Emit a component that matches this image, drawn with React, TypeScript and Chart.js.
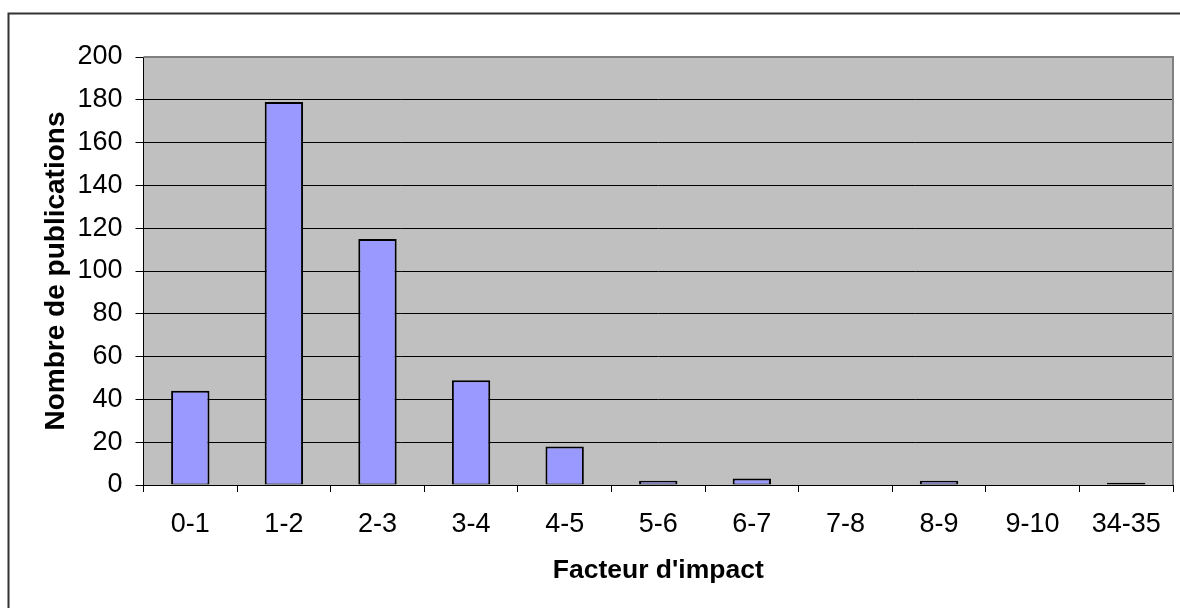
import React, { useEffect, useRef } from "react";
import { Chart, registerables } from "chart.js";

Chart.register(...registerables);

const categories = ["0-1", "1-2", "2-3", "3-4", "4-5", "5-6", "6-7", "7-8", "8-9", "9-10", "34-35"];
const publications = [44, 179, 115, 49, 18, 2, 3, 0, 2, 0, 1];
const yMin = 0;
const yMax = 200;
const yStep = 20;
const xTitle = "Facteur d'impact";
const yTitle = "Nombre de publications";

const FONT = "'Liberation Sans', Arial, Helvetica, sans-serif";

const framePlugin = {
  id: "frame",
  beforeDraw(chart: any) {
    const { ctx, chartArea } = chart;
    ctx.save();
    ctx.fillStyle = "#ffffff";
    ctx.fillRect(0, 0, chart.width, chart.height);
    ctx.strokeStyle = "#333333";
    ctx.lineWidth = 2;
    ctx.strokeRect(8.5, 13.5, chart.width + 20, chart.height + 20);
    ctx.fillStyle = "#c0c0c0";
    ctx.fillRect(chartArea.left, chartArea.top, chartArea.right - chartArea.left, chartArea.bottom - chartArea.top);
    ctx.restore();
  },
  afterDraw(chart: any) {
    const { ctx, chartArea } = chart;
    ctx.save();
    ctx.strokeStyle = "#808080";
    ctx.lineWidth = 2;
    ctx.beginPath();
    ctx.moveTo(chartArea.left, chartArea.top);
    ctx.lineTo(chartArea.right, chartArea.top);
    ctx.lineTo(chartArea.right, chartArea.bottom);
    ctx.stroke();
    ctx.restore();
  },
};

export default function App() {
  const ref = useRef<HTMLCanvasElement | null>(null);

  useEffect(() => {
    if (!ref.current) return;
    const chart = new Chart(ref.current, {
      type: "bar",
      data: {
        labels: categories,
        datasets: [
          {
            data: publications,
            backgroundColor: "#9999ff",
            borderColor: "#000000",
            borderWidth: { top: 2, left: 2, right: 2, bottom: 1 },
            borderSkipped: false,
            categoryPercentage: 1,
            barPercentage: 0.41,
          },
        ],
      },
      options: {
        animation: false,
        responsive: false,
        devicePixelRatio: 1,
        layout: { padding: { top: 57, right: 7, left: 0, bottom: 0 } },
        plugins: {
          legend: { display: false },
          tooltip: { enabled: false },
        },
        scales: {
          x: {
            grid: {
              offset: true,
              drawOnChartArea: false,
              drawTicks: true,
              tickLength: 7,
              color: "#000000",
              tickColor: "#000000",
            },
            border: { color: "#000000", width: 1 },
            ticks: {
              color: "#000000",
              font: { family: FONT, size: 27 },
              padding: 16,
              maxRotation: 0,
              autoSkip: false,
            },
            title: {
              display: true,
              text: xTitle,
              color: "#000000",
              font: { family: FONT, size: 26.5, weight: "bold" },
              padding: { top: 0, bottom: 21 },
            },
            afterFit: (scale: any) => {
              scale.height = 123;
            },
          },
          y: {
            min: yMin,
            max: yMax,
            grid: {
              color: (c: any) => (c.tick && c.tick.value === yMax ? "rgba(0,0,0,0)" : "#000000"),
              tickColor: "#000000",
              tickLength: 8,
              lineWidth: 1,
            },
            border: { color: "#000000", width: 1 },
            ticks: {
              stepSize: yStep,
              color: "#000000",
              font: { family: FONT, size: 27 },
              padding: 13,
            },
            title: {
              display: true,
              text: yTitle,
              color: "#000000",
              font: { family: FONT, size: 28, weight: "bold" },
              padding: { top: 39, bottom: 0 },
            },
            afterFit: (scale: any) => {
              scale.width = 143.5;
            },
          },
        },
      },
      plugins: [framePlugin],
    });
    return () => chart.destroy();
  }, []);

  return (
    <div style={{ position: "absolute", left: 0, top: 0, width: 1180, height: 608 }}>
      <canvas ref={ref} width={1180} height={608} style={{ display: "block", width: 1180, height: 608 }} />
    </div>
  );
}
